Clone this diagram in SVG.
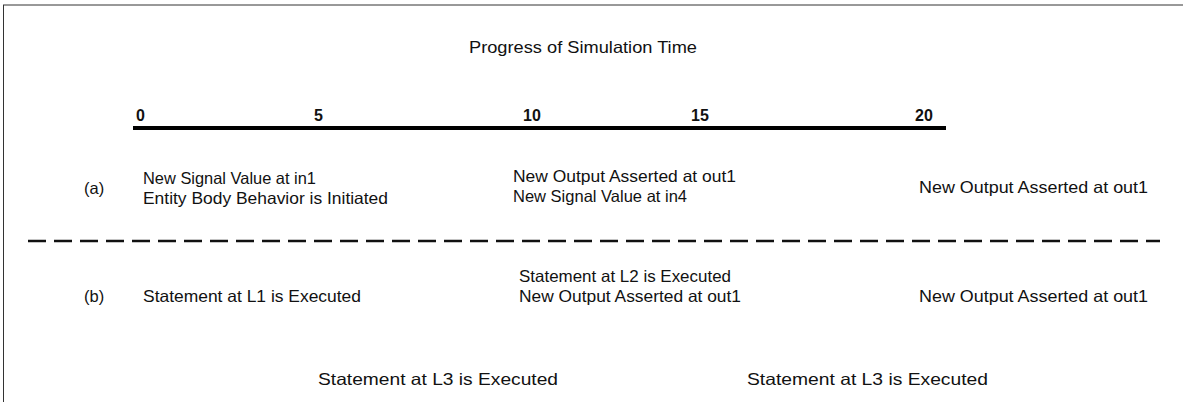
<svg xmlns="http://www.w3.org/2000/svg" width="1183" height="402" viewBox="0 0 1183 402">
<style>
text{font-family:"Liberation Sans",Arial,sans-serif;font-size:16.5px;fill:#111}
.n{font-weight:bold;font-size:16px}
.frame{stroke:#333;stroke-width:1;fill:none}
</style>
<rect width="1183" height="402" fill="#fff"/>
<g id="frame">
<line class="frame" x1="3" y1="5" x2="1183" y2="5"/>
<line class="frame" x1="3.5" y1="5" x2="3.5" y2="402"/>
</g>
<g id="title"><text x="469" y="53" textLength="228" lengthAdjust="spacingAndGlyphs">Progress of Simulation Time</text></g>
<g id="timeline">
<line x1="133" y1="128" x2="946" y2="128" stroke="#000" stroke-width="4"/>
<text class="n" x="136" y="121">0</text>
<text class="n" x="314" y="121">5</text>
<text class="n" x="523" y="121">10</text>
<text class="n" x="691" y="121">15</text>
<text class="n" x="915" y="121">20</text>
</g>
<g id="connectors">
<line x1="28" y1="241" x2="1160" y2="241" stroke="#111" stroke-width="2.5" stroke-dasharray="18,8"/>
</g>
<g id="row-a">
<text x="84" y="194">(a)</text>
<text x="143" y="184" textLength="173" lengthAdjust="spacingAndGlyphs">New Signal Value at in1</text>
<text x="143" y="204" textLength="245" lengthAdjust="spacingAndGlyphs">Entity Body Behavior is Initiated</text>
<text x="513" y="182" textLength="223" lengthAdjust="spacingAndGlyphs">New Output Asserted at out1</text>
<text x="513" y="202" textLength="174" lengthAdjust="spacingAndGlyphs">New Signal Value at in4</text>
<text x="919" y="193" textLength="229" lengthAdjust="spacingAndGlyphs">New Output Asserted at out1</text>
</g>
<g id="row-b">
<text x="84" y="302">(b)</text>
<text x="143" y="302" textLength="218" lengthAdjust="spacingAndGlyphs">Statement at L1 is Executed</text>
<text x="519" y="282" textLength="212" lengthAdjust="spacingAndGlyphs">Statement at L2 is Executed</text>
<text x="519" y="302" textLength="222" lengthAdjust="spacingAndGlyphs">New Output Asserted at out1</text>
<text x="919" y="302" textLength="229" lengthAdjust="spacingAndGlyphs">New Output Asserted at out1</text>
<text x="318" y="385" textLength="240" lengthAdjust="spacingAndGlyphs">Statement at L3 is Executed</text>
<text x="747" y="385" textLength="241" lengthAdjust="spacingAndGlyphs">Statement at L3 is Executed</text>
</g>
</svg>
